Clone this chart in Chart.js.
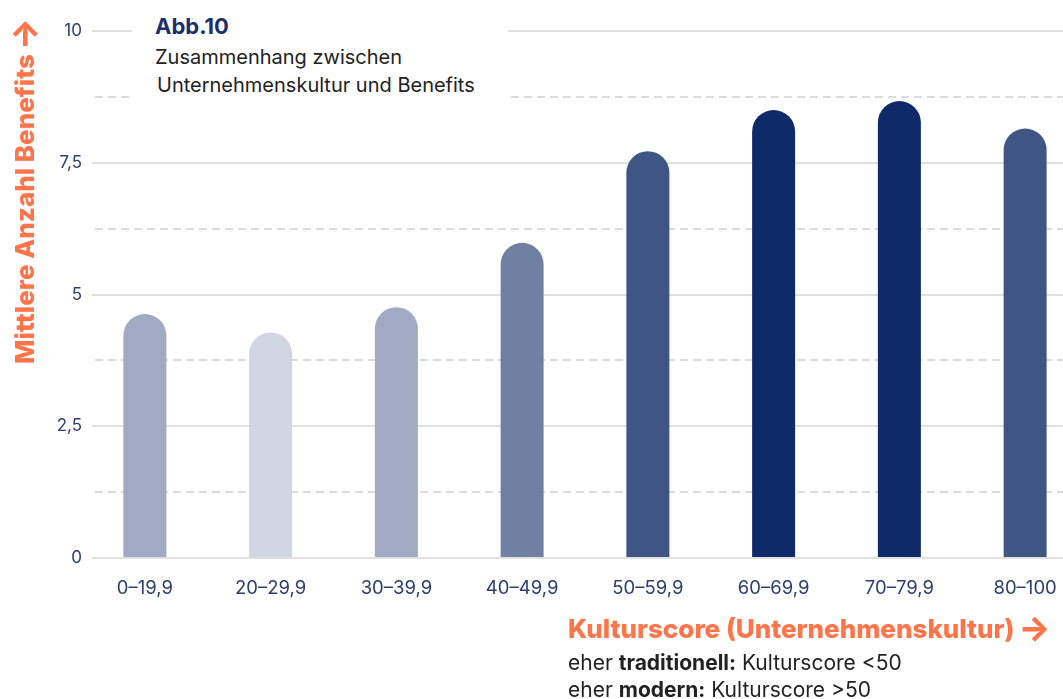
<!DOCTYPE html>
<html><head><meta charset="utf-8">
<script src="https://cdn.jsdelivr.net/npm/chart.js@4"></script>
<style>
html,body{margin:0;padding:0;background:#fff;overflow:hidden;width:1063px;height:699px}
#wrap{position:relative;width:1063px;height:699px;overflow:hidden;font-family:Inter,"Noto Sans",sans-serif}
canvas{position:absolute;left:0;top:0}
#titlebox{position:absolute;left:132px;top:8px;width:376px;height:98px;background:#fff}
#abb{position:absolute;left:23px;top:5px;font-size:22px;font-weight:700;color:#1b2f6e;line-height:26px}
#sub{position:absolute;left:23px;top:35px;font-size:20px;color:#222;line-height:28px;white-space:nowrap}
#sub span{padding-left:2px}
#ytitle{position:absolute;left:9px;top:364px;transform-origin:0 0;transform:rotate(-90deg);white-space:nowrap;font-size:26px;font-weight:800;color:#ff7549;line-height:30px}
#ytitle .ar,#xtitle .ar{font-size:34px;font-weight:800;vertical-align:-2px;margin-left:4px}
#xtitle{position:absolute;left:568px;top:613px;white-space:nowrap;font-size:26px;font-weight:800;color:#ff7549;line-height:30px}
#notes{position:absolute;left:568px;top:649px;white-space:nowrap;font-size:21px;color:#222;line-height:27px}
</style></head>
<body><div id="wrap">
<canvas id="c" width="1088" height="699"></canvas>
<div id="titlebox"><div id="abb">Abb.10</div><div id="sub">Zusammenhang zwischen<br><span>Unternehmenskultur und Benefits</span></div></div>
<div id="ytitle">Mittlere Anzahl Benefits<span class="ar">→</span></div>
<div id="xtitle">Kulturscore (Unternehmenskultur)<span class="ar">→</span></div>
<div id="notes">eher <b>traditionell:</b> Kulturscore &lt;50<br>eher <b>modern:</b> Kulturscore &gt;50</div>
</div>
<script>
const categories = ['0–19,9','20–29,9','30–39,9','40–49,9','50–59,9','60–69,9','70–79,9','80–100'];
const values = [4.63, 4.28, 4.76, 5.98, 7.72, 8.50, 8.67, 8.15];
const yTickValues = [0, 2.5, 5, 7.5, 10];
const yTickLabels = ['0', '2,5', '5', '7,5', '10'];
const barColors = ['#a1aac3','#d0d6e2','#a1aac3','#7080a3','#3f5584','#0f2a68','#0f2a68','#3f5584'];

const navy = '#2c3e70';
const clearLeft = {
  id: 'clearLeft',
  beforeDatasetsDraw(chart) {
    const a = chart.chartArea, ctx = chart.ctx;
    ctx.save(); ctx.fillStyle = '#fff';
    ctx.fillRect(a.left, a.top - 3, 92 - a.left, a.bottom - a.top + 6);
    ctx.restore();
  }
};

new Chart(document.getElementById('c'), {
  type: 'bar',
  data: { labels: categories, datasets: [{
    data: values, backgroundColor: barColors,
    barPercentage: 0.342, categoryPercentage: 1,
    borderRadius: {topLeft: 22, topRight: 22, bottomLeft: 0, bottomRight: 0},
    borderSkipped: 'start'
  }]},
  options: {
    responsive: false, animation: false, devicePixelRatio: 1,
    layout: { padding: { top: 31, left: 0, right: 0, bottom: 0 } },
    plugins: { legend: { display: false }, tooltip: { enabled: false } },
    scales: {
      x: {
        grid: { display: false }, border: { display: false },
        ticks: { color: navy, font: { family: 'Inter', size: 18.5 }, padding: 11 },
        afterFit(s) { s.height = 141; }
      },
      y: {
        min: 0, max: 10, position: 'left',
        grid: { color: '#e0e0e0', lineWidth: 2, drawTicks: false },
        border: { display: false },
        ticks: { stepSize: 2.5, color: navy, font: { family: 'Inter', size: 17 }, padding: 0,
          callback(v) { const i = yTickValues.indexOf(v); return i >= 0 ? yTickLabels[i] : ''; } },
        afterFit(s) { s.width = 82; }
      },
      y2: {
        min: 0, max: 10, position: 'left',
        grid: { color: (c) => (c.tick && Math.abs(c.tick.value % 2.5) < 1e-6) ? 'rgba(0,0,0,0)' : '#dcdcdc', lineWidth: 2, drawTicks: false },
        border: { display: false, dash: [8, 5] },
        ticks: { stepSize: 1.25, display: false },
        afterFit(s) { s.width = 0; }
      }
    }
  },
  plugins: [clearLeft]
});
</script>
</body></html>
